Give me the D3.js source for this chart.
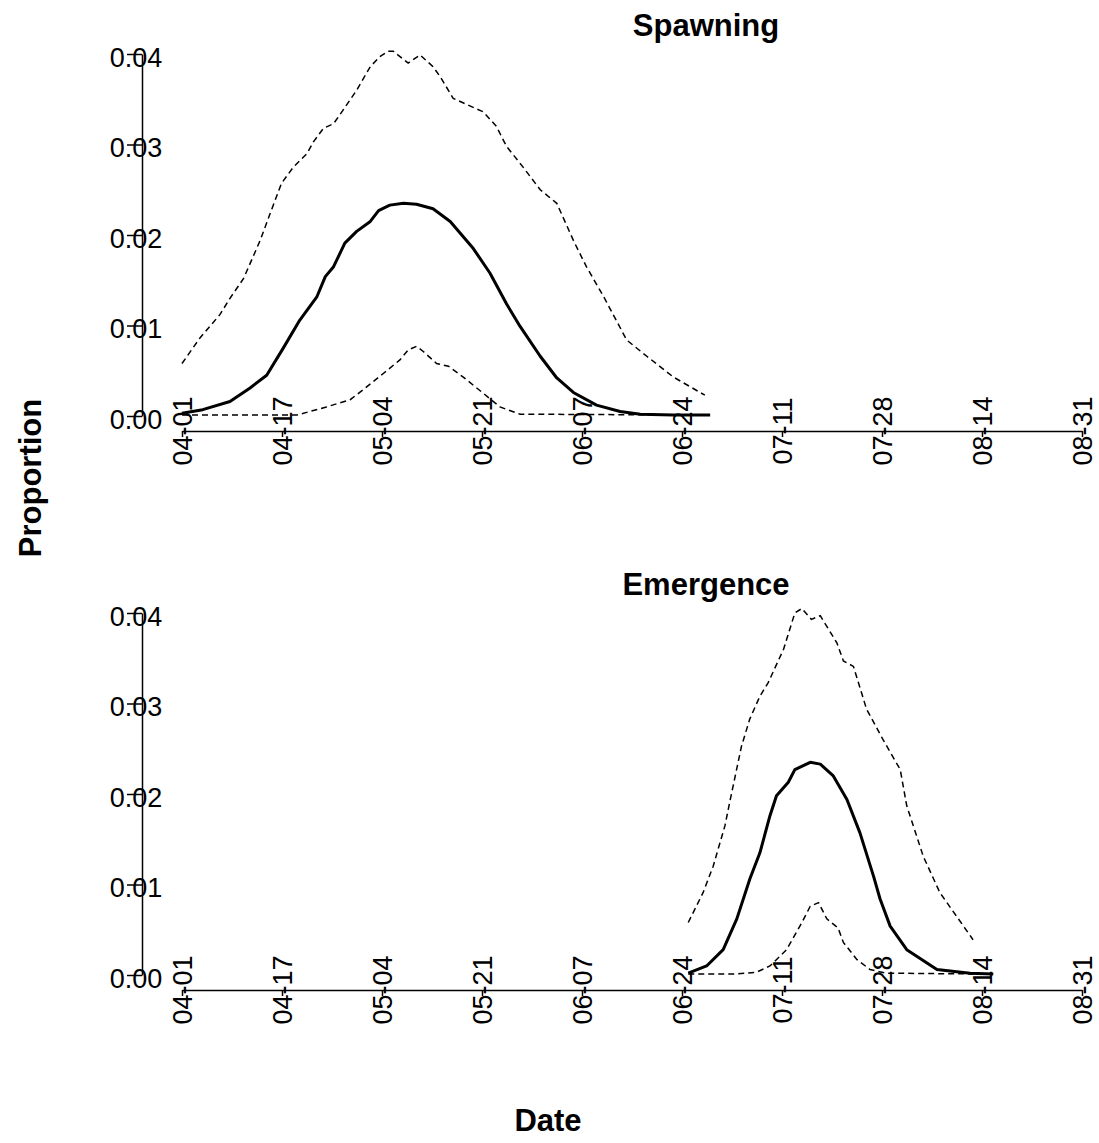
<!DOCTYPE html>
<html>
<head>
<meta charset="utf-8">
<script src="https://cdn.jsdelivr.net/npm/d3@7"></script>
<style>
  body { margin: 0; background: #fff; }
  svg { display: block; font-family: "Liberation Sans", Arial, sans-serif; }
</style>
</head>
<body>
<svg id="chart" width="1099" height="1143"></svg>
<script>
// x values are days since 04-01
const tickLabels = ['04-01', '04-17', '05-04', '05-21', '06-07', '06-24', '07-11', '07-28', '08-14', '08-31'];
const yTicks = [0, 0.01, 0.02, 0.03, 0.04];

// Spawning
const spawnMeanDays = [0, 3.5, 8.1, 11.5, 14.3, 17.1, 19.9, 22.8, 24.2, 25.6, 27.5, 29.5, 31.8, 33.2, 35.1, 37.4, 39.6, 42.4, 45.3, 49.2, 52.0, 54.8, 57.1, 60.5, 63.3, 66.1, 70.0, 74.0, 77.4, 83.0, 89.2];
const spawnMean = [0.0003, 0.0007, 0.0016, 0.0031, 0.0045, 0.0075, 0.0106, 0.0132, 0.0154, 0.0165, 0.0191, 0.0204, 0.0215, 0.0227, 0.0233, 0.0235, 0.0234, 0.0229, 0.0215, 0.0185, 0.0158, 0.0124, 0.0099, 0.0066, 0.0042, 0.0026, 0.0012, 0.0005, 0.0002, 0.0001, 0.0001];
const spawnUpperDays = [0, 3, 6.4, 8.1, 10.4, 13.2, 14.9, 16.8, 18.8, 21.1, 22.2, 23.9, 25.6, 27.2, 29.5, 31.8, 33.4, 34.8, 35.7, 38.2, 40.2, 42.4, 43.6, 45.8, 50.9, 53.1, 54.8, 57.6, 60.5, 63.3, 66.1, 68.3, 71.2, 75.1, 78.5, 83, 88.3];
const spawnUpper = [0.0058, 0.0086, 0.0112, 0.0130, 0.0152, 0.0194, 0.0224, 0.0257, 0.0275, 0.0290, 0.0303, 0.0318, 0.0323, 0.0338, 0.0360, 0.0386, 0.0397, 0.0403, 0.0403, 0.0390, 0.0399, 0.0386, 0.0375, 0.0351, 0.0336, 0.0320, 0.0298, 0.0275, 0.0250, 0.0235, 0.0194, 0.0165, 0.0132, 0.0084, 0.0066, 0.0043, 0.0023];
const spawnLowerDays = [0, 19.4, 24.4, 28.4, 30.6, 34, 36.8, 38.2, 39.6, 40.8, 43, 45, 47.5, 50.9, 53.7, 57.1, 89];
const spawnLower = [0.0001, 0.0001, 0.0010, 0.0018, 0.0029, 0.0047, 0.0062, 0.0073, 0.0077, 0.0071, 0.0058, 0.0055, 0.0043, 0.0025, 0.0010, 0.0002, 0.0001];

// Emergence
const emergeMeanDays = [85.5, 88.6, 91.4, 93.7, 95.9, 97.6, 99.3, 100.4, 102.4, 103.5, 106.1, 107.8, 110, 112.3, 114.5, 116.8, 117.9, 119.6, 122.4, 127.5, 133.1, 137];
const emergeMean = [0.0002, 0.0010, 0.0028, 0.0062, 0.0106, 0.0135, 0.0176, 0.0198, 0.0213, 0.0227, 0.0235, 0.0233, 0.0220, 0.0194, 0.0157, 0.0109, 0.0084, 0.0054, 0.0028, 0.0006, 0.0002, 0.0001];
const emergeUpperDays = [85.5, 88, 89.7, 91.7, 92.6, 94.5, 95.9, 97.6, 99, 101.6, 103.5, 104.7, 106.3, 107.8, 110.6, 111.7, 113.4, 115.6, 118.4, 121.3, 122.4, 125.2, 128, 130.8, 133.6];
const emergeUpper = [0.0058, 0.0091, 0.0120, 0.0165, 0.0194, 0.0253, 0.0283, 0.0308, 0.0323, 0.0360, 0.0400, 0.0405, 0.0393, 0.0397, 0.0367, 0.0347, 0.0341, 0.0294, 0.0260, 0.0227, 0.0187, 0.0131, 0.0091, 0.0065, 0.0039];
const emergeLowerDays = [85.5, 93.1, 97, 99.3, 102.1, 104.7, 106.1, 107.5, 108.9, 110.8, 111.7, 114, 116.2, 119, 137];
const emergeLower = [0.0001, 0.0001, 0.0003, 0.0010, 0.0028, 0.0058, 0.0076, 0.0080, 0.0062, 0.0052, 0.0036, 0.0017, 0.0006, 0.0002, 0.0001];

const svg = d3.select('#chart');
const x = d3.scaleLinear().domain([0, 152]).range([182, 1082]);
const xTickDays = d3.range(10).map(i => i * 152 / 9);

function zip(days, vals) { return days.map((d, i) => [d, vals[i]]); }

function panel(offset, title, mean, upper, lower) {
  const g = svg.append('g').attr('transform', `translate(0,${offset})`);
  const y = d3.scaleLinear().domain([0, 0.04]).range([416, 54]);

  // y axis
  const yAxis = g.append('g').attr('transform', 'translate(142,0)')
    .call(d3.axisLeft(y).tickValues(yTicks).tickFormat(d3.format('.2f')).tickSize(15).tickSizeOuter(0));
  yAxis.selectAll('text').attr('x', -6).attr('dy', '0.45em').attr('text-anchor', 'middle');

  // x axis
  const xAxis = g.append('g').attr('transform', 'translate(0,431)')
    .call(d3.axisBottom(x).tickValues(xTickDays).tickFormat((d, i) => tickLabels[i]).tickSize(6).tickSizeOuter(0));
  xAxis.selectAll('text')
    .attr('transform', 'rotate(-90)')
    .attr('x', 0).attr('y', 0).attr('dy', '0.35em')
    .attr('text-anchor', 'middle');

  g.selectAll('.domain, .tick line').attr('stroke', '#000').attr('stroke-width', 1.5);
  g.selectAll('.tick text').attr('font-size', 27).attr('fill', '#000').attr('font-family', '"Liberation Sans", Arial, sans-serif');

  const line = d3.line().x(d => x(d[0])).y(d => y(d[1]));
  g.append('path').datum(upper).attr('d', line)
    .attr('fill', 'none').attr('stroke', '#000').attr('stroke-width', 1.5).attr('stroke-dasharray', '6,4');
  g.append('path').datum(lower).attr('d', line)
    .attr('fill', 'none').attr('stroke', '#000').attr('stroke-width', 1.5).attr('stroke-dasharray', '6,4');
  g.append('path').datum(mean).attr('d', line)
    .attr('fill', 'none').attr('stroke', '#000').attr('stroke-width', 3).attr('stroke-linejoin', 'round');

  g.append('text').attr('x', 706).attr('y', 36).attr('text-anchor', 'middle')
    .attr('font-size', 31).attr('font-weight', 'bold').text(title);
}

panel(0, 'Spawning', zip(spawnMeanDays, spawnMean), zip(spawnUpperDays, spawnUpper), zip(spawnLowerDays, spawnLower));
panel(559, 'Emergence', zip(emergeMeanDays, emergeMean), zip(emergeUpperDays, emergeUpper), zip(emergeLowerDays, emergeLower));

svg.append('text').attr('transform', 'translate(41,478) rotate(-90)').attr('text-anchor', 'middle')
  .attr('font-size', 31).attr('font-weight', 'bold').text('Proportion');
svg.append('text').attr('x', 548).attr('y', 1131).attr('text-anchor', 'middle')
  .attr('font-size', 31).attr('font-weight', 'bold').text('Date');
</script>
</body>
</html>
